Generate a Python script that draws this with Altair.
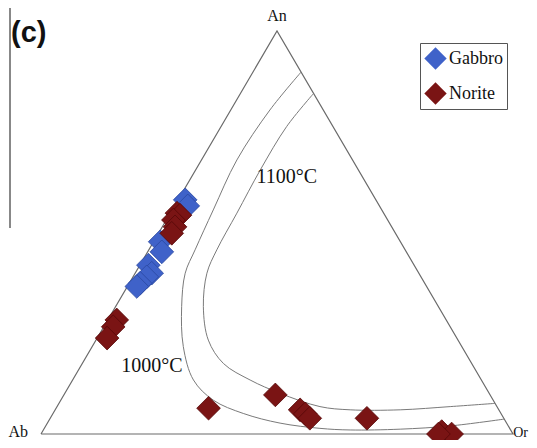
import altair as alt
import pandas as pd

# Ternary compositions in mol % (Ab = 100 - An - Or)
gabbro_an = [58.1, 56.6, 47.7, 45.2, 41.9, 39.9, 39.0, 37.4, 36.6]
gabbro_or = [1.5, 2.8, 1.4, 3.0, 1.8, 3.5, 2.9, 2.3, 2.0]
norite_an = [54.8, 54.3, 53.1, 51.4, 49.8, 28.3, 26.6, 23.8, 6.4, 9.7, 6.0, 5.0, 3.9, 3.9, 0.6, 0.0, 0.0]
norite_or = [1.4, 2.3, 1.5, 2.7, 2.8, 1.9, 2.0, 2.1, 32.3, 44.8, 51.9, 53.5, 55.0, 67.1, 84.6, 87.0, 84.2]

# Solvus isotherms
iso1000_an = [89.8, 80.4, 68.0, 55.6, 45.7, 39.9, 31.6, 21.7, 13.4, 8.4, 5.1, 2.7, 1.4, 1.0, 1.2, 2.0, 3.7]
iso1000_or = [10.2, 8.3, 7.5, 8.7, 9.8, 10.6, 14.0, 19.3, 25.6, 32.3, 40.3, 49.3, 58.4, 65.0, 75.5, 85.7, 96.3]
iso1100_an = [84.5, 76.3, 65.5, 54.8, 45.7, 39.9, 31.6, 23.3, 17.5, 13.4, 10.1, 6.8, 6.0, 6.0, 6.8, 7.6]
iso1100_or = [15.5, 13.9, 13.7, 14.1, 14.4, 15.2, 18.6, 23.8, 29.9, 37.6, 45.6, 55.7, 62.5, 73.1, 83.3, 92.4]

# Triangle vertices (An, Or): Ab, Or, An, Ab
tri_an = [0, 0, 100, 0]
tri_or = [0, 100, 0, 0]

iso_labels = ["1000°C", "1100°C"]
iso_label_an = [16.9, 63.8]
iso_label_or = [15.05, 20.2]

rocks = ["Gabbro", "Norite"]
fill_colors = ["#3f62c9", "#7a1414"]
stroke_colors = ["#2a48a0", "#550808"]


def to_xy(an, orr):
    return [o + a / 2 for a, o in zip(an, orr)], list(an)


px, py = to_xy(gabbro_an + norite_an, gabbro_or + norite_or)
pts = pd.DataFrame({"x": px, "y": py,
                    "rock": ["Gabbro"] * len(gabbro_an) + ["Norite"] * len(norite_an)})

cx1, cy1 = to_xy(iso1000_an, iso1000_or)
cx2, cy2 = to_xy(iso1100_an, iso1100_or)
curves = pd.DataFrame({
    "x": cx1 + cx2, "y": cy1 + cy2,
    "curve": ["1000"] * len(cx1) + ["1100"] * len(cx2),
    "i": list(range(len(cx1))) + list(range(len(cx2))),
})

tx, ty = to_xy(tri_an, tri_or)
tri = pd.DataFrame({"x": tx, "y": ty, "i": range(len(tx))})

lx, ly = to_xy(iso_label_an, iso_label_or)
isolab = pd.DataFrame({"x": lx, "y": ly, "t": iso_labels})

X = alt.X("x:Q", scale=alt.Scale(domain=[0, 100], nice=False, zero=False), axis=None)
Y = alt.Y("y:Q", scale=alt.Scale(domain=[0, 100], nice=False, zero=False), axis=None)

serif = "Liberation Serif"

triangle = alt.Chart(tri).mark_line(color="#6a6a6a", strokeWidth=1.2).encode(
    x=X, y=Y, order="i:O")

iso = alt.Chart(curves).mark_line(color="#7a7a7a", strokeWidth=1, interpolate="catmull-rom").encode(
    x=X, y=Y, detail="curve:N", order="i:Q")

points = alt.Chart(pts).mark_point(shape="diamond", filled=True, size=560, opacity=1,
                                   strokeWidth=0.8).encode(
    x=X, y=Y,
    color=alt.Color("rock:N", scale=alt.Scale(domain=rocks, range=fill_colors),
                    legend=alt.Legend(orient="none", legendX=379, legendY=12, title=None,
                                      symbolType="diamond", symbolSize=500,
                                      symbolStrokeWidth=0, symbolOpacity=1,
                                      labelFont=serif, labelFontSize=18, labelColor="#111",
                                      strokeColor="#555", padding=4, rowPadding=12,
                                      labelOffset=2)),
    stroke=alt.Stroke("rock:N", scale=alt.Scale(domain=rocks, range=stroke_colors), legend=None),
)

iso_text = alt.Chart(isolab).mark_text(font=serif, fontSize=20, color="#111",
                                       align="center", baseline="middle").encode(
    x=X, y=Y, text="t:N")

verts = pd.DataFrame({"x": [50, 0, 100], "y": [100, 0, 0], "t": ["An", "Ab", "Or"]})
an_lab = alt.Chart(verts[verts.t == "An"]).mark_text(
    font=serif, fontSize=16, color="#111", align="center", baseline="middle", dy=-15
).encode(x=X, y=Y, text="t:N")
ab_lab = alt.Chart(verts[verts.t == "Ab"]).mark_text(
    font=serif, fontSize=16, color="#111", align="right", baseline="bottom", dx=-13, dy=6
).encode(x=X, y=Y, text="t:N")
or_lab = alt.Chart(verts[verts.t == "Or"]).mark_text(
    font=serif, fontSize=14, color="#111", align="right", baseline="bottom", dx=15, dy=6
).encode(x=X, y=Y, text="t:N")

one = pd.DataFrame({"k": [0]})
panel = alt.Chart(one).mark_text(font="Liberation Sans", fontSize=29, fontWeight="bold",
                                 color="#111", align="left", baseline="alphabetic").encode(
    x=alt.value(-30), y=alt.value(11), text=alt.value("(c)"))
bar = alt.Chart(one).mark_rule(color="#888", strokeWidth=2).encode(
    x=alt.value(-31), y=alt.value(-26), y2=alt.value(197))

chart = alt.layer(triangle, iso, points, iso_text, an_lab, ab_lab, or_lab, panel, bar).properties(
    width=472, height=403,
    padding={"left": 33, "top": 23, "right": 16, "bottom": 6},
    autosize="none",
).configure_view(stroke=None)

chart.save("out.html", embed_options={"renderer": "svg", "actions": False})
